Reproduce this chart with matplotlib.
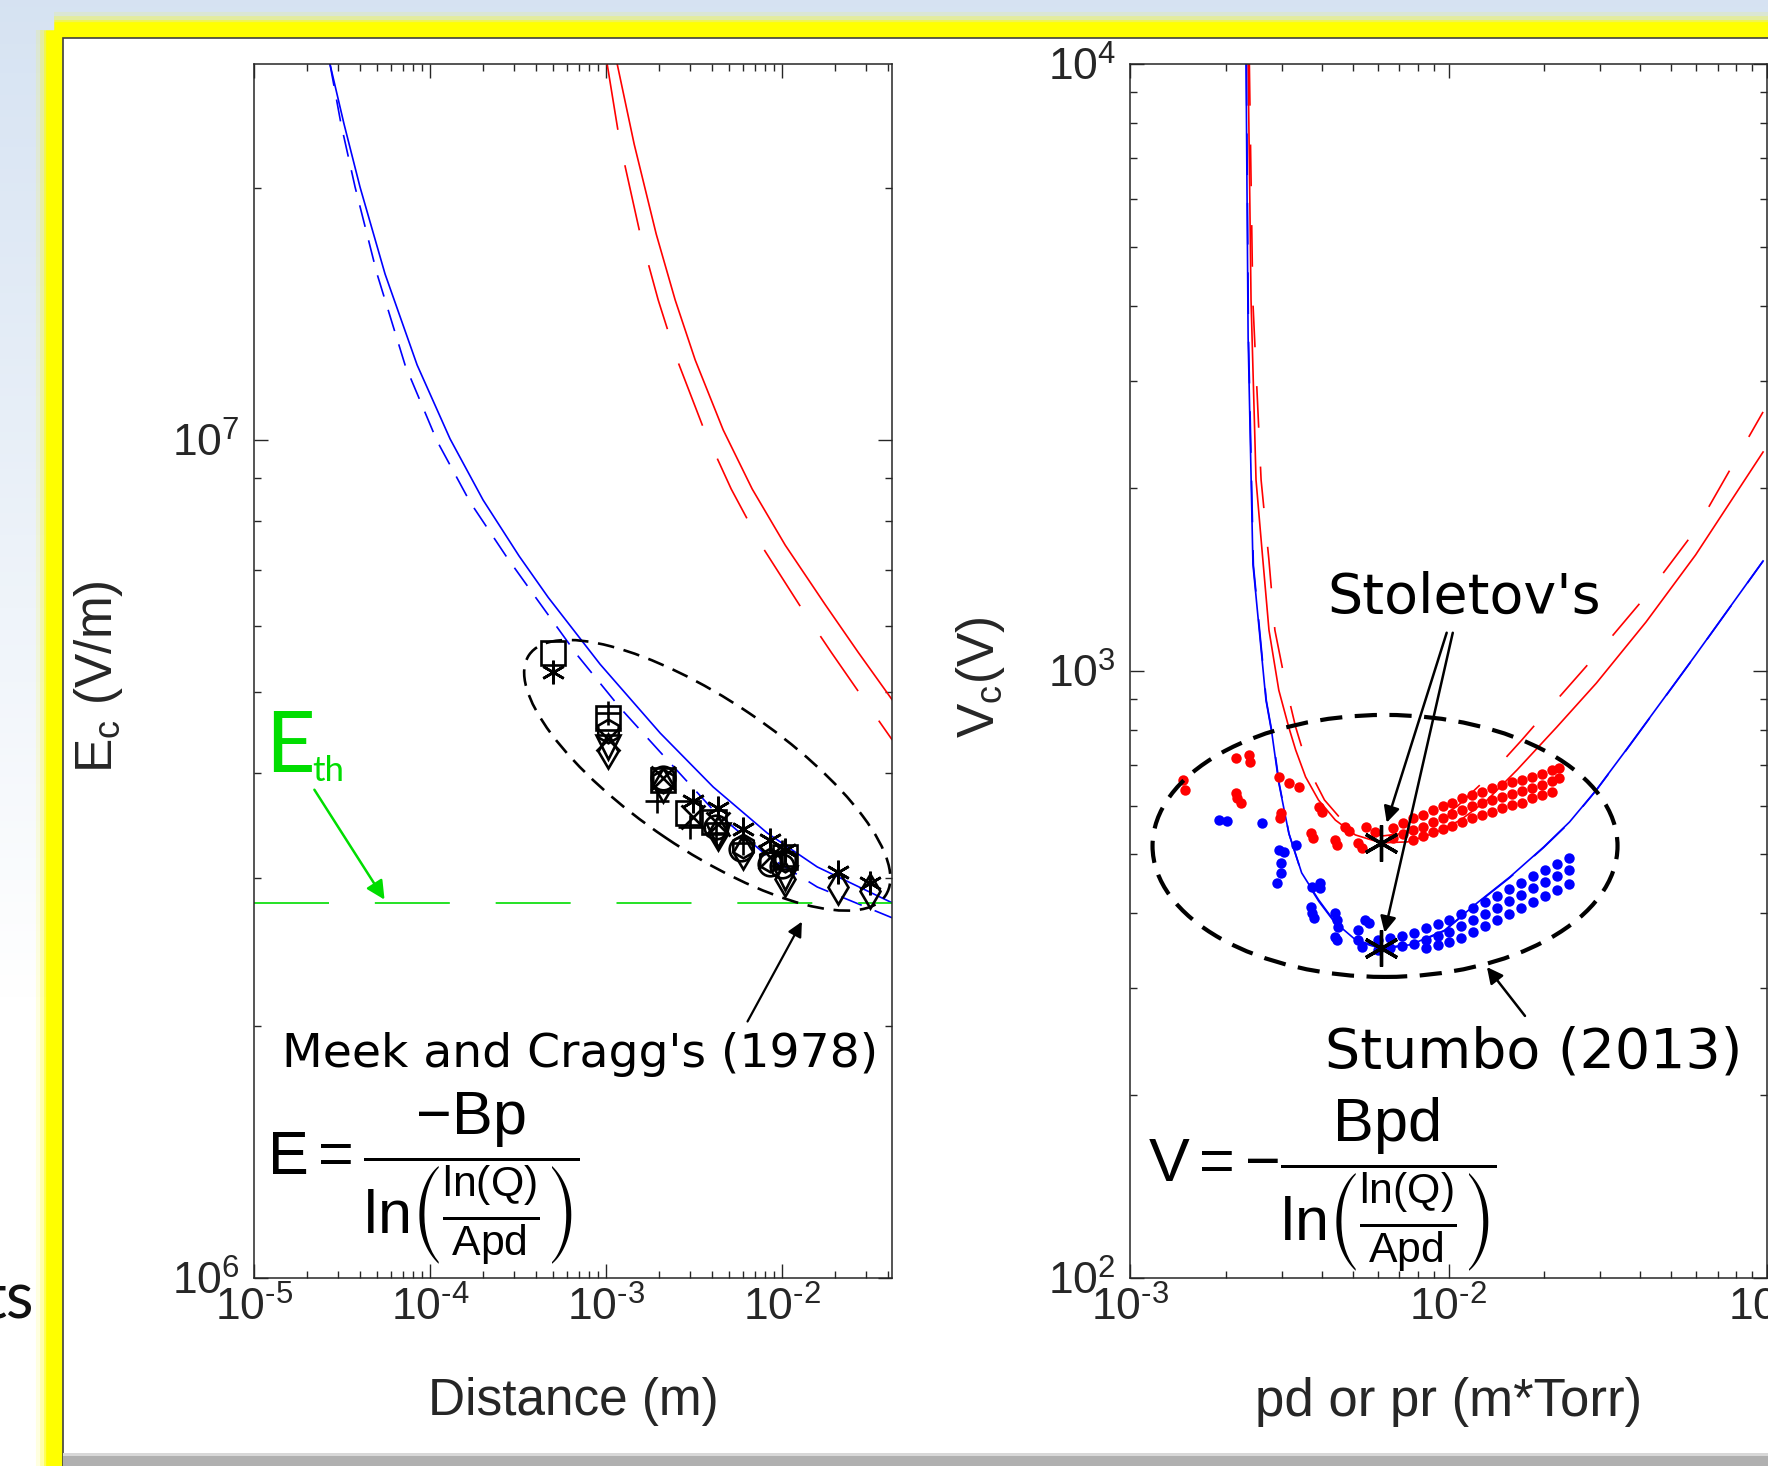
import numpy as np
import matplotlib.pyplot as plt
from matplotlib.patches import Rectangle, Ellipse
from matplotlib.ticker import LogLocator, FuncFormatter, NullFormatter
from matplotlib.transforms import IdentityTransform

plt.rcParams['font.family'] = ['Liberation Sans', 'DejaVu Sans']
plt.rcParams['mathtext.fontset'] = 'custom'
plt.rcParams['mathtext.rm'] = 'Liberation Sans'
plt.rcParams['mathtext.it'] = 'Liberation Sans:italic'
plt.rcParams['mathtext.bf'] = 'Liberation Sans:bold'
plt.rcParams['mathtext.fallback'] = 'stixsans'
plt.rcParams['lines.scale_dashes'] = False

# ---------------- left panel: breakdown field vs distance ----------------
dist_blue = [2.70e-5, 3.245e-5, 4.0e-5, 5.55e-5, 8.44e-5, 1.299e-4, 2.0e-4, 3.203e-4,
             4.684e-4, 9.24e-4, 2.026e-3, 4.055e-3, 8.22e-3, 1.581e-2, 4.217e-2]
ec_blue = [2.81e7, 2.383e7, 2.004e7, 1.578e7, 1.229e7, 1.003e7, 8.48e6, 7.27e6,
           6.49e6, 5.40e6, 4.47e6, 3.854e6, 3.396e6, 3.094e6, 2.803e6]
dist_blue_d = [2.70e-5, 3.12e-5, 3.75e-5, 5.0e-5, 7.21e-5, 1.096e-4, 1.688e-4, 2.70e-4,
               3.85e-4, 6.84e-4, 1.201e-3, 2.026e-3, 4.055e-3, 8.22e-3, 1.581e-2, 4.217e-2]
ec_blue_d = [2.81e7, 2.383e7, 2.004e7, 1.578e7, 1.229e7, 9.97e6, 8.43e6, 7.27e6,
             6.55e6, 5.54e6, 4.79e6, 4.243e6, 3.618e6, 3.189e6, 2.928e6, 2.69e6]
dist_red = [1.155e-3, 1.442e-3, 1.924e-3, 2.466e-3, 3.203e-3, 4.62e-3, 6.75e-3,
            1.04e-2, 1.755e-2, 2.70e-2, 4.217e-2]
ec_red = [2.81e7, 2.255e7, 1.761e7, 1.469e7, 1.246e7, 1.028e7, 8.74e6,
          7.49e6, 6.36e6, 5.58e6, 4.895e6]
dist_red_d = [1.013e-3, 1.201e-3, 1.560e-3, 1.975e-3, 2.532e-3, 3.603e-3, 5.13e-3,
              7.60e-3, 1.249e-2, 1.898e-2, 2.923e-2, 4.217e-2]
ec_red_d = [2.81e7, 2.255e7, 1.761e7, 1.469e7, 1.246e7, 1.028e7, 8.74e6,
            7.49e6, 6.36e6, 5.58e6, 4.895e6, 4.385e6]
E_th = 2.8e6

# Meek and Cragg (1978) measurements, one list per marker
meek = {
    (6, 2, 0): ([5.0e-4, 3.1e-3, 4.3e-3, 6.0e-3, 8.5e-3, 1.04e-2, 2.08e-2, 3.16e-2],
                [5.28e6, 3.71e6, 3.64e6, 3.43e6, 3.33e6, 3.24e6, 3.05e6, 2.96e6]),
    's': ([5.0e-4, 1.03e-3, 2.1e-3, 2.9e-3, 4.1e-3, 1.04e-2],
          [5.57e6, 4.66e6, 3.93e6, 3.59e6, 3.50e6, 3.18e6]),
    '+': ([1.03e-3, 1.95e-3, 3.0e-3, 4.2e-3, 6.0e-3, 1.0e-2],
          [4.72e6, 3.71e6, 3.45e6, 3.40e6, 3.30e6, 3.22e6]),
    'd': ([1.03e-3, 2.1e-3, 4.3e-3, 6.0e-3, 1.04e-2, 2.08e-2, 3.16e-2],
          [4.25e6, 3.88e6, 3.40e6, 3.22e6, 2.99e6, 2.93e6, 2.90e6]),
    'o': ([2.1e-3, 4.2e-3, 5.8e-3, 8.5e-3, 1.0e-2],
          [3.95e6, 3.45e6, 3.25e6, 3.12e6, 3.10e6]),
    'x': ([1.03e-3, 2.1e-3, 3.1e-3, 4.3e-3, 8.5e-3],
          [4.40e6, 3.95e6, 3.55e6, 3.48e6, 3.18e6]),
    'v': ([1.03e-3, 4.3e-3, 1.04e-2],
          [4.30e6, 3.38e6, 3.0e6]),
    'h': ([1.03e-3, 2.1e-3, 6.0e-3, 8.5e-3, 1.04e-2],
          [4.50e6, 3.92e6, 3.28e6, 3.15e6, 3.15e6]),
}

# ---------------- right panel: Paschen curves ----------------
pd_blue = [2.314e-3, 2.349e-3, 2.432e-3, 2.672e-3, 2.789e-3, 2.932e-3, 3.151e-3, 3.459e-3,
           3.907e-3, 4.414e-3, 5.097e-3, 6.141e-3, 7.61e-3, 9.72e-3, 1.231e-2, 1.560e-2,
           1.991e-2, 2.399e-2, 2.912e-2, 3.61e-2, 5.97e-2, 9.72e-2]
vc_blue = [1e4, 3537, 1500, 896, 790, 654, 541, 465, 420, 385, 361, 350, 354, 374, 415, 458,
           513, 564, 637, 741, 1063, 1518]
pd_blue_d = [2.32e-3, 2.355e-3, 2.44e-3, 2.68e-3, 2.80e-3, 2.945e-3, 3.16e-3, 3.47e-3,
             3.92e-3, 4.43e-3, 5.11e-3, 6.15e-3, 7.6e-3, 9.7e-3, 1.23e-2, 1.56e-2,
             1.99e-2, 2.40e-2, 2.91e-2, 3.61e-2, 5.97e-2, 9.72e-2]
vc_blue_d = [1e4, 3540, 1495, 893, 786, 650, 538, 462, 417, 383, 359, 349, 353, 373, 414, 457,
             512, 563, 636, 740, 1062, 1517]
pd_red = [2.349e-3, 2.399e-3, 2.487e-3, 2.597e-3, 2.731e-3, 2.932e-3, 3.151e-3, 3.313e-3,
          3.559e-3, 3.907e-3, 4.414e-3, 5.097e-3, 6.141e-3, 7.45e-3, 9.05e-3, 1.090e-2,
          1.323e-2, 1.641e-2, 2.186e-2, 2.912e-2, 4.169e-2, 5.967e-2, 9.72e-2]
vc_red = [1e4, 4084, 2064, 1582, 1168, 930, 808, 741, 669, 613, 568, 537, 521, 523, 541, 568,
          613, 687, 808, 955, 1204, 1553, 2295]
pd_red_d = [2.37e-3, 2.43e-3, 2.58e-3, 2.73e-3, 2.85e-3, 3.107e-3, 3.313e-3, 3.483e-3,
            3.744e-3, 4.08e-3, 4.575e-3, 5.28e-3, 6.23e-3, 7.45e-3, 8.91e-3, 1.067e-2,
            1.323e-2, 1.70e-2, 2.186e-2, 2.912e-2, 4.169e-2, 5.967e-2, 9.72e-2]
vc_red_d = [1e4, 4084, 2064, 1524, 1168, 930, 808, 741, 669, 613, 572, 547, 535, 541, 564, 599,
            666, 770, 896, 1063, 1329, 1707, 2672]

# Stumbo (2013) measurements
stumbo_red_pd = [1.462e-3, 1.484e-3, 2.154e-3, 2.364e-3, 2.382e-3, 2.154e-3, 2.17e-3, 2.234e-3,
                 2.93e-3, 3.15e-3, 3.39e-3, 2.975e-3, 2.953e-3, 3.69e-3, 3.744e-3, 3.91e-3,
                 4.02e-3, 4.414e-3, 4.478e-3, 4.742e-3, 4.88e-3, 5.21e-3, 5.36e-3, 5.51e-3,
                 5.88e-3,
                 6.69e-3, 6.69e-3, 7.19e-3, 7.19e-3, 7.73e-3, 7.73e-3, 7.73e-3,
                 8.30e-3, 8.30e-3, 8.30e-3, 8.92e-3, 8.92e-3, 8.92e-3, 9.58e-3, 9.58e-3, 9.58e-3,
                 1.029e-2, 1.029e-2, 1.029e-2, 1.106e-2, 1.106e-2, 1.106e-2,
                 1.188e-2, 1.188e-2, 1.188e-2, 1.276e-2, 1.276e-2, 1.276e-2,
                 1.371e-2, 1.371e-2, 1.371e-2, 1.473e-2, 1.473e-2, 1.473e-2,
                 1.582e-2, 1.582e-2, 1.582e-2, 1.70e-2, 1.70e-2, 1.70e-2,
                 1.827e-2, 1.827e-2, 1.827e-2, 1.963e-2, 1.963e-2, 1.963e-2,
                 2.109e-2, 2.109e-2, 2.109e-2, 2.217e-2, 2.217e-2]
stumbo_red_v = [661, 637, 719, 727, 708, 630, 618, 606,
                669, 654, 644, 583, 572, 541, 531, 597,
                586, 527, 517, 553, 545, 521, 511, 553,
                543,
                551, 531, 562, 539, 572, 547, 527,
                579, 553, 535, 590, 564, 543, 599, 572, 549,
                606, 581, 556, 618, 590, 564,
                625, 599, 572, 632, 606, 579,
                642, 613, 586, 649, 620, 595,
                656, 627, 602, 661, 635, 606,
                669, 642, 618, 677, 649, 625,
                687, 659, 632, 692, 666]
stumbo_blue_pd = [1.906e-3, 2.02e-3, 2.597e-3, 2.93e-3, 3.04e-3, 2.975e-3, 2.975e-3, 2.89e-3,
                  3.313e-3, 3.716e-3, 3.963e-3, 3.963e-3, 3.69e-3, 3.716e-3, 3.77e-3,
                  4.414e-3, 4.45e-3, 4.51e-3, 4.414e-3, 4.45e-3, 5.21e-3, 5.47e-3, 5.63e-3,
                  5.21e-3, 5.36e-3,
                  6.01e-3, 6.01e-3, 6.55e-3, 6.55e-3, 7.14e-3, 7.14e-3, 7.78e-3, 7.78e-3,
                  8.48e-3, 8.48e-3, 8.48e-3, 9.25e-3, 9.25e-3, 9.25e-3,
                  1.007e-2, 1.007e-2, 1.007e-2, 1.098e-2, 1.098e-2, 1.098e-2,
                  1.197e-2, 1.197e-2, 1.197e-2, 1.304e-2, 1.304e-2, 1.304e-2,
                  1.421e-2, 1.421e-2, 1.421e-2, 1.549e-2, 1.549e-2, 1.549e-2,
                  1.688e-2, 1.688e-2, 1.688e-2, 1.84e-2, 1.84e-2, 1.84e-2,
                  2.005e-2, 2.005e-2, 2.005e-2, 2.186e-2, 2.186e-2, 2.186e-2,
                  2.382e-2, 2.382e-2, 2.382e-2]
stumbo_blue_v = [568, 566, 562, 507, 503, 483, 465, 447,
                 517, 441, 447, 439, 408, 399, 392,
                 399, 389, 379, 365, 361, 374, 389, 385,
                 361, 351,
                 361, 347, 363, 350, 366, 352, 370, 355,
                 377, 361, 350, 383, 366, 354,
                 389, 372, 358, 398, 380, 363,
                 407, 389, 372, 416, 398, 380,
                 426, 407, 389, 437, 418, 398,
                 447, 428, 407, 460, 439, 416,
                 470, 449, 426, 481, 460, 436,
                 492, 470, 446]
stoletov_pd = [6.14e-3, 6.14e-3]
stoletov_v = [521, 350]

W, H = 1768, 1466
fig = plt.figure(figsize=(W / 100, H / 100), dpi=100)

# slide background, yellow frame and white box
bg = fig.add_axes([0, 0, 1, 1])
bg.set_xlim(0, W)
bg.set_ylim(H, 0)
bg.axis('off')
t = np.clip(np.linspace(0, H, 200) / 1000.0, 0, 1)[:, None, None]
top = np.array([0.84, 0.89, 0.95])
grad = np.repeat(top + (1 - top) * t, 2, axis=1)
bg.imshow(grad, extent=[0, W, H, 0], aspect='auto', zorder=0)
for lw, a in [(26, 0.12), (20, 0.25), (15, 0.5), (12, 1.0)]:
    bg.add_patch(Rectangle((54, 30), 4000, 4000, fill=False, ec='#ffff00', lw=lw, alpha=a, zorder=1))
bg.add_patch(Rectangle((63, 38), 4000, 4000, fc='white', ec='#404040', lw=1.2, zorder=2))
bg.add_patch(Rectangle((63, 1455), 4000, 11, fc='#b0b0b0', ec='none', zorder=3))
bg.add_patch(Rectangle((63, 1453), 4000, 3, fc='#d8d8d8', ec='none', zorder=3))
bg.text(34, 1317, 'ts', ha='right', va='baseline', fontsize=46, family='Lato', color='#111111')

axL = fig.add_axes([254 / W, 1 - 1278 / H, 638 / W, 1214 / H])
axR = fig.add_axes([1130 / W, 1 - 1278 / H, 637 / W, 1214 / H])

dec_fmt = FuncFormatter(lambda v, p: r'$\mathregular{10^{%s}}$' % str(int(round(np.log10(v)))).replace('-', '\u2010'))
tick_col = '#262626'
for ax in (axL, axR):
    ax.set_xscale('log')
    ax.set_yscale('log')
    for s in ax.spines.values():
        s.set_color(tick_col)
        s.set_linewidth(1.1)
    ax.xaxis.set_major_locator(LogLocator(base=10, numticks=10))
    ax.yaxis.set_major_locator(LogLocator(base=10, numticks=10))
    ax.xaxis.set_minor_locator(LogLocator(base=10, subs=np.arange(2, 10), numticks=40))
    ax.yaxis.set_minor_locator(LogLocator(base=10, subs=np.arange(2, 10), numticks=40))
    ax.xaxis.set_major_formatter(dec_fmt)
    ax.yaxis.set_major_formatter(dec_fmt)
    ax.xaxis.set_minor_formatter(NullFormatter())
    ax.yaxis.set_minor_formatter(NullFormatter())
    ax.tick_params(which='both', direction='in', top=True, right=True, color=tick_col,
                   labelcolor=tick_col, labelsize=32, width=1.0)
    ax.tick_params(which='major', length=10)
    ax.tick_params(which='minor', length=5)
    ax.tick_params(axis='x', which='major', pad=6)
    ax.tick_params(axis='y', which='major', pad=10)

# ---- left panel
axL.set_xlim(1e-5, 4.2e-2)
axL.set_ylim(1e6, 2.81e7)
axL.plot(dist_blue_d, ec_blue_d, color='#0000ff', lw=1.2, dashes=(16, 10))
axL.plot(dist_blue, ec_blue, color='#0000ff', lw=1.2)
axL.plot(dist_red_d, ec_red_d, color='#ff0000', lw=1.2, dashes=(48, 26))
axL.plot(dist_red, ec_red, color='#ff0000', lw=1.2)
axL.axhline(E_th, color='#00dd00', lw=1.2, dashes=(54, 33))
for mk, (xs, ys) in meek.items():
    axL.plot(xs, ys, ls='none', marker=mk, ms=17, mfc='none', mec='black', mew=1.9, zorder=5)

cL = axL.transData.transform((3.75e-3, 3.98e6))
axL.add_patch(Ellipse(cL, 430, 150, angle=-34, transform=IdentityTransform(), fill=False,
                      ec='black', lw=1.9, ls=(0, (12, 7)), zorder=6))
axL.annotate('', xy=(1.315e-2, 2.68e6), xytext=(6.24e-3, 2.01e6),
             arrowprops=dict(arrowstyle='-|>', color='black', lw=1.6, mutation_scale=22))
axL.text(0.511, 0.1845, "Meek and Cragg's (1978)", transform=axL.transAxes, ha='center',
         va='center', fontsize=34, family='DejaVu Sans', color='black')
axL.annotate('', xy=(5.62e-5, 2.81e6), xytext=(2.16e-5, 3.85e6),
             arrowprops=dict(arrowstyle='-|>', color='#00dd00', lw=1.8, mutation_scale=28))
fig.text(265 / W, 1 - 772 / H, 'E', fontsize=62, family='Lato', color='#00dd00', va='baseline')
fig.text(312 / W, 1 - 781 / H, 'th', fontsize=25, family='Lato', color='#00dd00', va='baseline')
axL.text(0.02, 0.082,
         r'$\mathrm{E}=\dfrac{-\mathrm{Bp}}{\mathrm{ln}\left(\frac{\mathrm{ln(Q)}}{\mathrm{Apd}}\right)}$',
         transform=axL.transAxes, ha='left', va='center', fontsize=44, color='black')
axL.text(0.5, -0.102, 'Distance (m)', transform=axL.transAxes, ha='center', va='center',
         fontsize=37, color=tick_col)
axL.text(-0.243, 0.495, r'$\mathregular{E_c}$ (V/m)', transform=axL.transAxes, ha='center',
         va='center', rotation=90, fontsize=37, color=tick_col)

# ---- right panel
axR.set_xlim(1e-3, 1e-1)
axR.set_ylim(1e2, 1e4)
axR.plot(pd_red_d, vc_red_d, color='#ff0000', lw=1.2, dashes=(30, 28))
axR.plot(pd_red, vc_red, color='#ff0000', lw=1.2)
axR.plot(pd_blue_d, vc_blue_d, color='#0000ff', lw=1.2, dashes=(30, 20))
axR.plot(pd_blue, vc_blue, color='#0000ff', lw=1.2)
axR.plot(stumbo_red_pd, stumbo_red_v, ls='none', marker='o', ms=7.5, color='#ff0000', mec='none', zorder=4)
axR.plot(stumbo_blue_pd, stumbo_blue_v, ls='none', marker='o', ms=7.5, color='#0000ff', mec='none', zorder=4)
axR.plot(stoletov_pd, stoletov_v, ls='none', marker=(6, 2, 0), ms=26, mec='black', mew=2.4, zorder=6)

cR = axR.transData.transform((6.32e-3, 515))
axR.add_patch(Ellipse(cR, 465, 262, angle=0, transform=IdentityTransform(), fill=False,
                      ec='black', lw=3.0, ls=(0, (16, 9)), zorder=6))
axR.annotate('', xy=(6.36e-3, 557), xytext=(9.93e-3, 1168),
             arrowprops=dict(arrowstyle='-|>', color='black', lw=1.8, mutation_scale=24), zorder=7)
axR.annotate('', xy=(6.27e-3, 367), xytext=(1.036e-2, 1168),
             arrowprops=dict(arrowstyle='-|>', color='black', lw=1.8, mutation_scale=24), zorder=7)
axR.text(0.524, 0.560, "Stoletov's", transform=axR.transAxes, ha='center', va='center',
         fontsize=40, family='DejaVu Sans', color='black')
axR.annotate('', xy=(1.304e-2, 328), xytext=(1.76e-2, 268),
             arrowprops=dict(arrowstyle='-|>', color='black', lw=1.8, mutation_scale=24))
axR.text(0.634, 0.186, 'Stumbo (2013)', transform=axR.transAxes, ha='center', va='center',
         fontsize=40, family='DejaVu Sans', color='black')
axR.text(0.028, 0.077,
         r'$\mathrm{V}=-\dfrac{\mathrm{Bpd}}{\mathrm{ln}\left(\frac{\mathrm{ln(Q)}}{\mathrm{Apd}}\right)}$',
         transform=axR.transAxes, ha='left', va='center', fontsize=44, color='black')
axR.text(0.5, -0.102, 'pd or pr (m*Torr)', transform=axR.transAxes, ha='center', va='center',
         fontsize=38, color=tick_col)
axR.text(-0.234, 0.495, r'$\mathregular{V_c}$(V)', transform=axR.transAxes, ha='center',
         va='center', rotation=90, fontsize=37, color=tick_col)

fig.savefig('out.png', dpi=100)
